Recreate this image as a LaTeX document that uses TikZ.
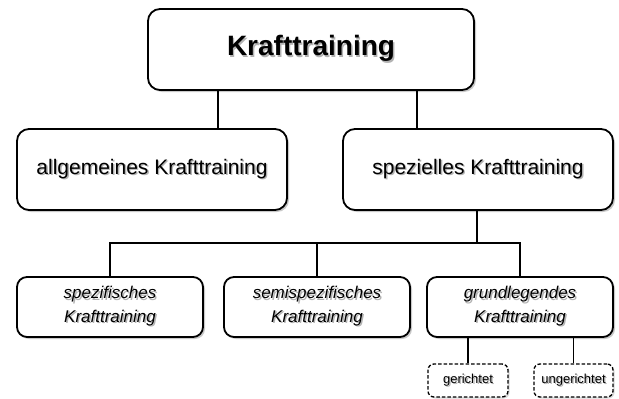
\documentclass[tikz,border=0pt]{standalone}
\usepackage{fontspec}
\setmainfont{Liberation Sans}
\usetikzlibrary{shadows}
\newcommand\sh[1]{\makebox[0pt][l]{\hspace{1.4pt}\raisebox{-1.4pt}{\color{black!30}#1}}#1}
\begin{document}
\begin{tikzpicture}[x=1pt,y=-1pt,
  box/.style={draw=black,line width=1.8pt,fill=white,rounded corners=12pt,inner sep=0pt,
    drop shadow={shadow xshift=2pt,shadow yshift=-2pt,fill=black!30,opacity=0.7},align=center},
  smallbox/.style={box,rounded corners=10pt},
  dbox/.style={draw=black,line width=1.3pt,dashed,dash pattern=on 3.5pt off 2pt,fill=white,rounded corners=6pt,inner sep=0pt,
    drop shadow={shadow xshift=1.5pt,shadow yshift=-1.5pt,fill=black!25,opacity=0.6},align=center},
  conn/.style={line width=1.8pt}]
\useasboundingbox (0,0) rectangle (619,399);
% connectors (drawn first, boxes on top)
\coordinate (fork) at (477,243);
\node[box,minimum width=326pt,minimum height=81pt,font=\fontsize{28}{32}\selectfont\bfseries] (top) at (311,49.5) {\sh{Krafttraining}};
\node[box,minimum width=270pt,minimum height=81pt,font=\fontsize{21}{25}\selectfont] (allg) at (152,169.5) {\sh{allgemeines Krafttraining}};
\node[box,minimum width=270pt,minimum height=81pt,font=\fontsize{21}{25}\selectfont] (spez) at (478,169.5) {\sh{spezielles Krafttraining}};
\node[smallbox,minimum width=186pt,minimum height=60pt,font=\fontsize{17}{23.5}\selectfont\itshape] (b1) at (110,307) {\sh{spezifisches}\\\sh{Krafttraining}};
\node[smallbox,minimum width=186pt,minimum height=60pt,font=\fontsize{17}{23.5}\selectfont\itshape] (b2) at (317,307) {\sh{semispezifisches}\\\sh{Krafttraining}};
\node[smallbox,minimum width=186pt,minimum height=60pt,font=\fontsize{17}{23.5}\selectfont\itshape] (b3) at (520,307) {\sh{grundlegendes}\\\sh{Krafttraining}};
\node[dbox,minimum width=80pt,minimum height=33pt,font=\fontsize{13}{15}\selectfont] (g1) at (468,380.5) {\sh{gerichtet}};
\node[dbox,minimum width=79pt,minimum height=33pt,font=\fontsize{13}{15}\selectfont] (g2) at (573.5,380.5) {\sh{ungerichtet}};
% connectors
\draw[conn] ([xshift=-93pt]top.south) -- ([xshift=66pt]allg.north);
\draw[conn] ([xshift=106pt]top.south) -- ([xshift=-61pt]spez.north);
\draw[conn] ([xshift=-1pt]spez.south) -- (fork);
\draw[conn] (b1.north) |- (fork);
\draw[conn] (b2.north) |- (fork);
\draw[conn] (b3.north) |- (fork);
\draw[conn] (b3.south -| g1.north) -- (g1.north);
\draw[conn] (b3.south -| g2.north) -- (g2.north);
\end{tikzpicture}
\end{document}
